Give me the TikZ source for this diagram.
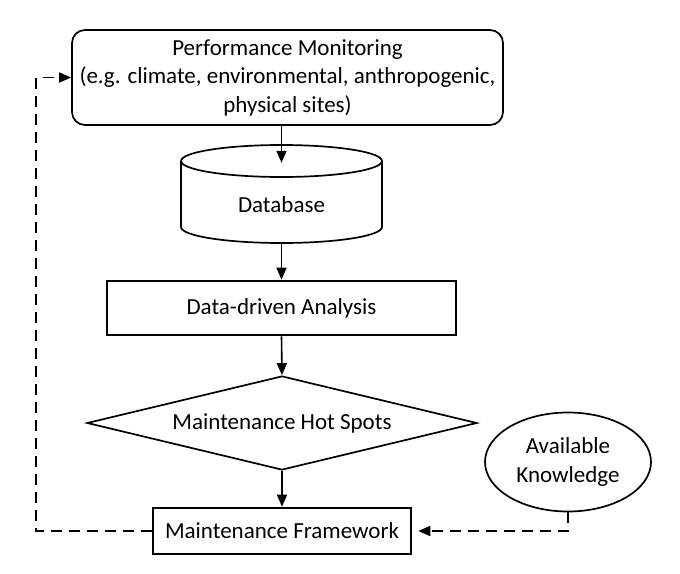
\documentclass[tikz,border=0pt]{standalone}
\usepackage{fontspec}
\setmainfont{Carlito}
\usetikzlibrary{arrows.meta,shapes.geometric}

\begin{document}
\begin{tikzpicture}[x=1pt,y=-1pt,
    font=\fontsize{23}{28.5}\selectfont,
    box/.style={draw,line width=2.6pt,inner sep=0pt},
    arr/.style={line width=1.6pt,-{Triangle[length=12pt,width=10pt]}},
    dasharr/.style={arr,dash pattern=on 11pt off 7pt}]
  \useasboundingbox (0,0) rectangle (680,573);

  \node[draw,line width=1.7pt,rounded corners=13pt,minimum width=431pt,minimum height=95pt,align=center] (monitor) at (287.5,77.5)
    {Performance Monitoring\\(e.g. climate, environmental, anthropogenic,\\physical sites)};

  \draw[line width=1.7pt] (281.5,161) ellipse (100.5 and 16);
  \draw[line width=1.7pt] (181,161) -- (181,227) arc (180:0:100.5 and 16) -- (382,161);
  \node[inner sep=0pt,minimum width=201pt,minimum height=98pt] (db) at (281.5,194) {};
  \node at (281.5,205) {Database};

  \node[box,minimum width=349pt,minimum height=54pt] (analysis) at (281.5,308) {Data-driven Analysis};
  \node[draw,diamond,line width=1.7pt,aspect=4.15,inner sep=0pt,minimum width=390pt,minimum height=94pt] (hotspots) at (282,423) {Maintenance Hot Spots};
  \node[box,minimum width=258pt,minimum height=46pt] (framework) at (282,531) {Maintenance Framework};
  \node[draw,ellipse,line width=1.7pt,inner sep=0pt,minimum width=166pt,minimum height=99pt,align=center] (knowledge) at (568,462) {Available\\Knowledge};

  \coordinate (back) at (36,531);

  \draw[arr] (db.north |- monitor.south) -- ([yshift=-18pt]db.north);
  \draw[arr] (db.south) -- (analysis.north);
  \draw[arr] (analysis.south) -- (hotspots.north);
  \draw[arr] (hotspots.south) -- (framework.north);
  \draw[dasharr] (framework.west) -- (back) |- (monitor.west);
  \draw[dasharr,shorten >=6pt] (knowledge.south) |- (framework.east);

\end{tikzpicture}
\end{document}
